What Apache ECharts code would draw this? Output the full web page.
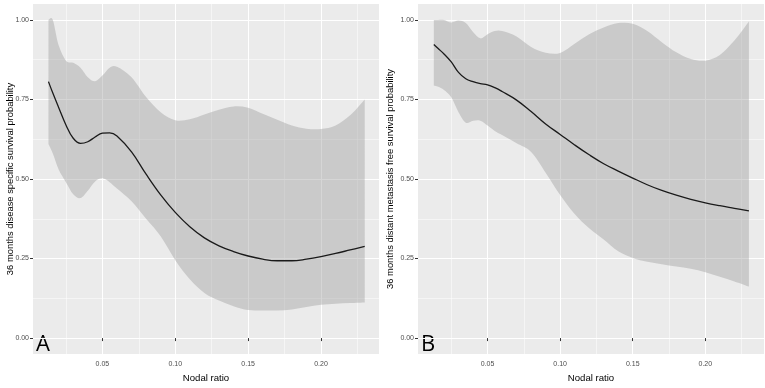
<!DOCTYPE html>
<html><head><meta charset="utf-8">
<script src="https://cdn.jsdelivr.net/npm/echarts@6/dist/echarts.min.js"></script>
<style>html,body{margin:0;padding:0;background:#fff}#c{width:765px;height:388px}</style>
</head><body><div id="c"></div>
<script>
// Common nodal-ratio sample points
const nodalRatio = [0.013,0.016,0.02,0.025,0.03,0.035,0.04,0.045,0.05,0.055,0.06,0.07,0.08,0.09,0.10,0.11,0.12,0.13,0.14,0.15,0.16,0.17,0.18,0.19,0.20,0.21,0.22,0.23];
// Panel A: disease specific survival
const dssMean  = [0.806,0.77,0.725,0.67,0.628,0.612,0.617,0.632,0.644,0.645,0.635,0.585,0.515,0.45,0.395,0.35,0.315,0.29,0.272,0.258,0.248,0.243,0.243,0.248,0.256,0.266,0.277,0.288];
const dssUpper = [1.0,1.0,0.92,0.872,0.865,0.85,0.82,0.807,0.825,0.85,0.853,0.82,0.758,0.71,0.685,0.688,0.703,0.718,0.728,0.724,0.705,0.686,0.668,0.658,0.657,0.668,0.70,0.75];
const dssLower = [0.61,0.58,0.53,0.49,0.452,0.44,0.463,0.492,0.502,0.49,0.47,0.43,0.375,0.32,0.245,0.185,0.142,0.118,0.10,0.088,0.087,0.087,0.09,0.098,0.105,0.108,0.11,0.112];
// Panel B: distant metastasis free survival
const dmfsMean  = [0.923,0.91,0.893,0.868,0.835,0.815,0.806,0.80,0.796,0.787,0.775,0.748,0.712,0.673,0.64,0.607,0.576,0.548,0.525,0.503,0.482,0.464,0.449,0.436,0.425,0.416,0.408,0.40];
const dmfsUpper = [1.0,1.0,1.0,0.992,0.998,0.99,0.962,0.942,0.955,0.965,0.965,0.948,0.915,0.897,0.896,0.925,0.955,0.976,0.99,0.988,0.965,0.93,0.898,0.877,0.872,0.89,0.935,0.995];
const dmfsLower = [0.794,0.79,0.78,0.757,0.71,0.677,0.683,0.683,0.668,0.651,0.638,0.612,0.585,0.52,0.45,0.39,0.345,0.31,0.273,0.252,0.24,0.232,0.225,0.218,0.207,0.193,0.178,0.162];

const yTicks = [0, 0.25, 0.5, 0.75, 1];
const yMinor = [0.125, 0.375, 0.625, 0.875];
const xTicks = [0.05, 0.10, 0.15, 0.20];
const xMinor = [0.025, 0.075, 0.125, 0.175, 0.225];
const xTitle = 'Nodal ratio';
const yTitles = ['36 months disease specific survival probability', '36 months distant metastasis free survival probability'];
const panelLetters = ['A', 'B'];

const panels = [
  {mean: dssMean, upper: dssUpper, lower: dssLower, left: 33, xmin: 0.0024, xmax: 0.2398, gap: 18},
  {mean: dmfsMean, upper: dmfsUpper, lower: dmfsLower, left: 418, xmin: 0.0021, xmax: 0.2404, gap: 23}
];

// Catmull-Rom -> cubic bezier path through pixel points
function smoothPath(pts, moveFirst) {
  let d = (moveFirst ? 'M' : 'L') + pts[0][0] + ' ' + pts[0][1];
  for (let i = 0; i < pts.length - 1; i++) {
    const p0 = pts[Math.max(i - 1, 0)], p1 = pts[i], p2 = pts[i + 1], p3 = pts[Math.min(i + 2, pts.length - 1)];
    const t = 6;
    const c1 = [p1[0] + (p2[0] - p0[0]) / t, p1[1] + (p2[1] - p0[1]) / t];
    const c2 = [p2[0] - (p3[0] - p1[0]) / t, p2[1] - (p3[1] - p1[1]) / t];
    d += ' C' + c1[0] + ' ' + c1[1] + ' ' + c2[0] + ' ' + c2[1] + ' ' + p2[0] + ' ' + p2[1];
  }
  return d;
}

const grid = [], xAxis = [], yAxis = [], series = [], graphic = [];
panels.forEach((p, i) => {
  grid.push({left: p.left, top: 4, width: 346, height: 355, show: true, backgroundColor: '#EBEBEB', borderWidth: 0});
  xAxis.push({
    type: 'value', gridIndex: i, min: p.xmin, max: p.xmax,
    axisLine: {show: false},
    axisTick: {show: true, customValues: xTicks, length: 3, lineStyle: {color: '#333', width: 1}},
    axisLabel: {customValues: xTicks, formatter: v => v.toFixed(2), fontSize: 7, color: '#4d4d4d', margin: 7, fontFamily: 'Liberation Sans'},
    splitLine: {show: true, lineStyle: {color: '#fff', width: 1}},
    name: xTitle, nameLocation: 'middle', nameGap: 19,
    nameTextStyle: {fontSize: 9.6, color: '#000', fontFamily: 'Liberation Sans'}
  });
  xAxis.push({
    type: 'value', gridIndex: i, min: p.xmin, max: p.xmax,
    axisLine: {show: false},
    axisTick: {show: false, customValues: xMinor},
    axisLabel: {show: false, customValues: xMinor},
    splitLine: {show: true, lineStyle: {color: '#fff', width: 0.5}}
  });
  yAxis.push({
    type: 'value', gridIndex: i, min: -0.05, max: 1.05,
    axisLine: {show: false},
    axisTick: {show: true, customValues: yTicks, length: 3, lineStyle: {color: '#333', width: 1}},
    axisLabel: {customValues: yTicks, formatter: v => v.toFixed(2), fontSize: 7, color: '#4d4d4d', margin: 4, fontFamily: 'Liberation Sans'},
    splitLine: {show: true, lineStyle: {color: '#fff', width: 1}},
    name: yTitles[i], nameLocation: 'middle', nameGap: p.gap, nameRotate: 90, nameMoveOverlap: false,
    nameTextStyle: {fontSize: 9.4, color: '#000', fontFamily: 'Liberation Sans'}
  });
  yAxis.push({
    type: 'value', gridIndex: i, min: -0.05, max: 1.05,
    axisLine: {show: false},
    axisTick: {show: false, customValues: yMinor},
    axisLabel: {show: false, customValues: yMinor},
    splitLine: {show: true, lineStyle: {color: '#fff', width: 0.5}}
  });
  const xi = 2 * i, yi = 2 * i;
  series.push({
    type: 'custom', xAxisIndex: xi, yAxisIndex: yi, silent: true, z: 2,
    data: nodalRatio.map((x, k) => [x, p.lower[k], p.upper[k]]),
    encode: {x: 0, y: [1, 2]},
    renderItem: (params, api) => {
      if (params.dataIndex !== 0) return null;
      const up = nodalRatio.map((x, k) => api.coord([x, p.upper[k]]));
      const lo = nodalRatio.map((x, k) => api.coord([x, p.lower[k]])).reverse();
      const d = smoothPath(up, true) + ' ' + smoothPath(lo, false) + ' Z';
      return {type: 'path', shape: {pathData: d}, style: {fill: '#999999', opacity: 0.4}};
    }
  });
  series.push({
    type: 'line', xAxisIndex: xi, yAxisIndex: yi, smooth: 0.4, symbol: 'none', z: 5,
    lineStyle: {color: '#1a1a1a', width: 1.3}, data: nodalRatio.map((x, k) => [x, p.mean[k]])
  });
  graphic.push({
    type: 'text', left: p.left + 3, top: 334,
    style: {text: panelLetters[i], fontSize: 22, fill: '#000', fontFamily: 'Open Sans'}
  });
});

const chart = echarts.init(document.getElementById('c'), null, {renderer: 'canvas'});
chart.setOption({animation: false, grid, xAxis, yAxis, series, graphic});
</script>
</body></html>
